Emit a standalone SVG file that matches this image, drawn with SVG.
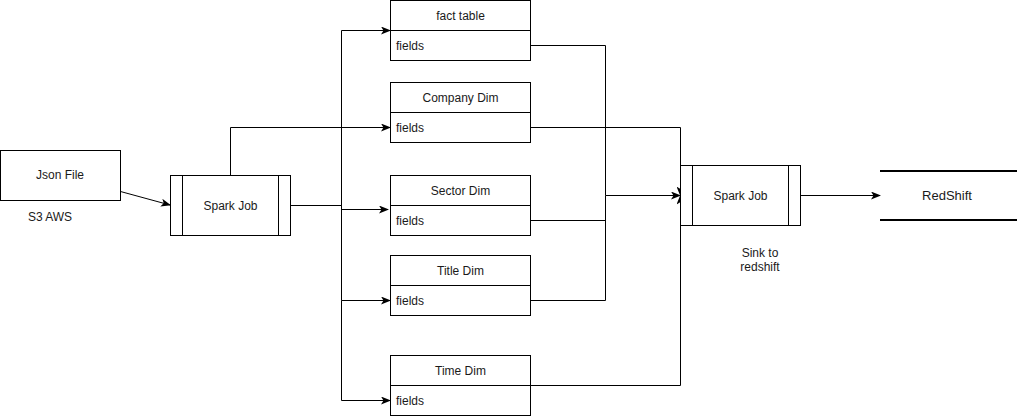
<svg xmlns="http://www.w3.org/2000/svg" width="1017" height="416" viewBox="0 0 1017 416">
<style>
.box{fill:#fff;stroke:#000;stroke-width:1}
.ln{fill:none;stroke:#000;stroke-width:1}
.e{fill:none;stroke:#000;stroke-width:1;marker-end:url(#arr)}
text{font-family:"Liberation Sans",Arial,sans-serif;font-size:12px;fill:#1a1a1a}
.c{text-anchor:middle}
</style>
<defs>
<marker id="arr" viewBox="0 0 10 8" refX="9" refY="4" markerWidth="10" markerHeight="8" markerUnits="userSpaceOnUse" orient="auto">
<path d="M0,0 L10,4 L0,8 L2.5,4 Z" fill="#000"/>
</marker>
</defs>
<rect width="1017" height="416" fill="#fff"/>
<g id="connectors">
<path class="e" d="M120.5,191.5 L170,205"/>
<path class="e" d="M290.5,205.5 H341.5 V30.5 H390"/>
<path class="e" d="M230.5,175.5 V127.5 H390"/>
<path class="e" d="M290.5,205.5 H341.5 V209.5 H388"/>
<path class="e" d="M341.5,205.5 V300.5 H390"/>
<path class="e" d="M341.5,300.5 V400.5 H390"/>
<path class="e" d="M530.5,45.5 H605.5 V195.5 H680"/>
<path class="ln" d="M530.5,220.5 H605.5"/>
<path class="ln" d="M530.5,300.5 H605.5 V195.5"/>
<path class="e" d="M530.5,127.5 H680.5 V195.5"/>
<path class="e" d="M530.5,385.5 H680.5 V195.5"/>
<path class="e" d="M800.5,195.5 H880"/>
</g>
<g id="json-file">
<rect class="box" x="0.5" y="150.5" width="120" height="50"/>
<text class="c" x="60" y="179">Json File</text>
</g>
<g id="s3-label"><text class="c" x="50" y="221">S3 AWS</text></g>
<g id="spark-job-1">
<rect class="box" x="170.5" y="175.5" width="120" height="60"/>
<path class="ln" d="M182.5,175.5 V235.5 M278.5,175.5 V235.5"/>
<text class="c" x="230.5" y="209.5">Spark Job</text>
</g>
<g id="fact-table">
<rect class="box" x="390.5" y="0.5" width="140" height="60"/>
<path class="ln" d="M390.5,30.5 H530.5"/>
<text class="c" x="460.5" y="19.5">fact table</text>
<text x="396" y="49.5">fields</text>
</g>
<g id="company-dim">
<rect class="box" x="390.5" y="82.5" width="140" height="60"/>
<path class="ln" d="M390.5,112.5 H530.5"/>
<text class="c" x="460.5" y="101.5">Company Dim</text>
<text x="396" y="131.5">fields</text>
</g>
<g id="sector-dim">
<rect class="box" x="390.5" y="175.5" width="140" height="60"/>
<path class="ln" d="M390.5,205.5 H530.5"/>
<text class="c" x="460.5" y="194.5">Sector Dim</text>
<text x="396" y="224.5">fields</text>
</g>
<g id="title-dim">
<rect class="box" x="390.5" y="255.5" width="140" height="60"/>
<path class="ln" d="M390.5,285.5 H530.5"/>
<text class="c" x="460.5" y="274.5">Title Dim</text>
<text x="396" y="304.5">fields</text>
</g>
<g id="time-dim">
<rect class="box" x="390.5" y="355.5" width="140" height="60"/>
<path class="ln" d="M390.5,385.5 H530.5"/>
<text class="c" x="460.5" y="374.5">Time Dim</text>
<text x="396" y="404.5">fields</text>
</g>
<g id="spark-job-2">
<rect class="box" x="680.5" y="165.5" width="120" height="60"/>
<path class="ln" d="M692.5,165.5 V225.5 M788.5,165.5 V225.5"/>
<text class="c" x="740.5" y="199.5">Spark Job</text>
</g>
<g id="sink-label">
<text class="c" x="760" y="257">Sink to</text>
<text class="c" x="760" y="271">redshift</text>
</g>
<g id="redshift">
<path d="M880,171 H1017 M880,220 H1017" stroke="#000" stroke-width="2" fill="none"/>
<text class="c" x="947" y="200" style="font-size:13px">RedShift</text>
</g>
</svg>
